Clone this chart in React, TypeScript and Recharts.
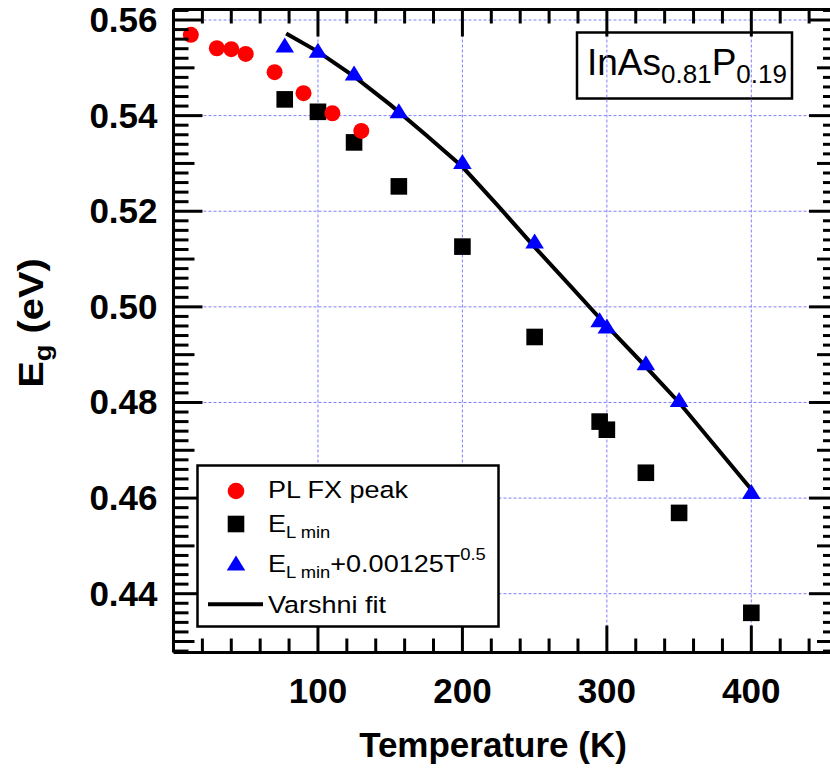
import React from "react";
import {
  ComposedChart,
  Scatter,
  Line,
  XAxis,
  YAxis,
  ReferenceLine,
  Legend,
  Customized,
} from "recharts";

// PL FX peak (red circles)
const plT = [12, 30, 40, 50, 70, 90, 110, 130];
const plE = [0.5569, 0.5541, 0.5539, 0.5529, 0.5491, 0.5447, 0.5405, 0.5368];

// E_L min (black squares)
const elT = [77, 100, 125, 156, 200, 250, 295, 300, 327, 350, 400];
const elE = [0.5434, 0.5408, 0.5344, 0.5252, 0.5126, 0.4937, 0.476, 0.4743, 0.4653, 0.4569, 0.436];

// E_L min + 0.00125 T^0.5 (blue triangles)
const corrT = [77, 100, 125, 156, 200, 250, 295, 300, 327, 350, 400];
const corrE = [0.5548, 0.5537, 0.5489, 0.541, 0.5304, 0.5138, 0.4973, 0.496, 0.4883, 0.4806, 0.4614];

// Varshni fit
const fitT = [78, 100, 125, 150, 175, 200, 225, 250, 275, 300, 325, 350, 375, 400];
const fitE = [0.5572, 0.5534, 0.5482, 0.5423, 0.5359, 0.5293, 0.521, 0.5125, 0.5043, 0.496, 0.4881, 0.48, 0.4709, 0.4618];

const xMajorTicks = [100, 200, 300, 400];
const yMajorTicks = [0.44, 0.46, 0.48, 0.5, 0.52, 0.54, 0.56];

const X_DOMAIN: [number, number] = [0, 460];
const Y_DOMAIN: [number, number] = [0.4277, 0.5622];

const xTicks: number[] = [];
for (let t = 20; t <= 440; t += 20) xTicks.push(t);
const yTicks: number[] = [];
for (let k = 428; k <= 562; k += 2) yTicks.push(k / 1000);

const toPts = (ts: number[], es: number[]) => ts.map((T, i) => ({ T, E: es[i] }));
const plData = toPts(plT, plE);
const elData = toPts(elT, elE);
const corrData = toPts(corrT, corrE);
const fitData = toPts(fitT, fitE);

const FONT = "'Liberation Sans', Arial, sans-serif";

const yLevel = (v: number) => {
  const k = Math.round(v * 1000);
  if (k % 20 === 0) return 29;
  if (k % 10 === 0) return 21;
  return 15;
};
const xLevel = (v: number) => (v % 100 === 0 ? 27 : 14);

const BottomTick = ({ x, y, payload }: any) => {
  const v = payload.value;
  return (
    <g>
      <line x1={x} x2={x} y1={y} y2={y - xLevel(v)} stroke="#000" strokeWidth={3} />
      {v % 100 === 0 && (
        <text x={x} y={y + 50} textAnchor="middle" fontFamily={FONT} fontWeight="bold" fontSize={35} fill="#000">
          {v}
        </text>
      )}
    </g>
  );
};

const TopTick = ({ x, y, payload }: any) => (
  <line x1={x} x2={x} y1={y} y2={y + xLevel(payload.value)} stroke="#000" strokeWidth={3} />
);

const LeftTick = ({ x, y, payload }: any) => {
  const v = payload.value;
  const k = Math.round(v * 1000);
  return (
    <g>
      <line x1={x} x2={x + yLevel(v)} y1={y} y2={y} stroke="#000" strokeWidth={3} />
      {k % 20 === 0 && (
        <text x={x - 16} y={y + 12} textAnchor="end" fontFamily={FONT} fontWeight="bold" fontSize={35} fill="#000">
          {v.toFixed(2)}
        </text>
      )}
    </g>
  );
};

const RightTick = ({ x, y, payload }: any) => (
  <line x1={x} x2={x - yLevel(payload.value)} y1={y} y2={y} stroke="#000" strokeWidth={3} />
);

const RedDot = (p: any) => <circle cx={p.cx} cy={p.cy} r={8} fill="#ff0000" />;
const BlackSquare = (p: any) => <rect x={p.cx - 8.3} y={p.cy - 8.3} width={16.6} height={16.6} fill="#000" />;
const BlueTriangle = (p: any) => (
  <path d={`M${p.cx},${p.cy - 7.5} L${p.cx + 9.3},${p.cy + 7.5} L${p.cx - 9.3},${p.cy + 7.5} Z`} fill="#0000ff" />
);

// legend text in the source is a bit wider than Arial, stretch it horizontally
const stretch = "translate(72,0) scale(1.15,1) translate(-72,0)";

const LegendBox = () => (
  <svg width={306} height={166} style={{ display: "block" }}>
    <rect x={1.5} y={1.5} width={301} height={161} fill="#fff" stroke="#000" strokeWidth={2.5} />
    <circle cx={40} cy={27} r={8.3} fill="#ff0000" />
    <rect x={31.7} y={51.7} width={16.6} height={16.6} fill="#000" />
    <path d="M40,91.5 L49.3,106.5 L30.7,106.5 Z" fill="#0000ff" />
    <line x1={12} x2={67} y1={140.3} y2={140.3} stroke="#000" strokeWidth={4} />
    <g fontFamily={FONT} fontSize={23.5} fill="#000" transform={stretch}>
      <text x={72} y={34.5}>PL FX peak</text>
      <text x={72} y={68}>
        E<tspan fontSize={16} dy={6}>L min</tspan>
      </text>
      <text x={72} y={108.5}>
        E<tspan fontSize={16} dy={6}>L min</tspan>
        <tspan dy={-6}>+0.00125T</tspan>
        <tspan fontSize={16} dy={-12}>0.5</tspan>
      </text>
      <text x={72} y={149}>Varshni fit</text>
    </g>
  </svg>
);

const AlloyLabel = () => (
  <g>
    <rect x={577} y={32.5} width={215} height={66} fill="#fff" stroke="#000" strokeWidth={2.5} />
    <text x={587} y={75} fontFamily={FONT} fontSize={37} fill="#000">
      InAs<tspan fontSize={26} dy={8}>0.81</tspan>
      <tspan dy={-8}>P</tspan>
      <tspan fontSize={26} dy={8}>0.19</tspan>
    </text>
  </g>
);

const YTitle = () => (
  <text
    transform="translate(43, 323) rotate(-90) scale(1.14,1)"
    textAnchor="middle"
    fontFamily={FONT}
    fontWeight="bold"
    fontSize={35}
    fill="#000"
  >
    E<tspan fontSize={24} dy={8}>g</tspan>
    <tspan dy={-8}> (eV)</tspan>
  </text>
);

const XTitle = () => (
  <text x={493} y={757} textAnchor="middle" fontFamily={FONT} fontWeight="bold" fontSize={35} fill="#000">
    Temperature (K)
  </text>
);

const gridStyle = { stroke: "#7f7fff", strokeWidth: 1, strokeDasharray: "3 2" };
const axisLine = { stroke: "#000", strokeWidth: 3 };

export default function App() {
  return (
    <div style={{ position: "absolute", left: 0, top: 0, width: 830, height: 778, overflow: "hidden", background: "#fff" }}>
      <ComposedChart width={840} height={778} margin={{ top: 0, right: 0, bottom: 0, left: 0 }}>
        <XAxis
          xAxisId="b"
          type="number"
          dataKey="T"
          domain={X_DOMAIN}
          allowDataOverflow
          ticks={xTicks}
          interval={0}
          orientation="bottom"
          height={125.5}
          tickSize={0}
          tickMargin={0}
          tickLine={false}
          axisLine={axisLine}
          tick={<BottomTick />}
        />
        <XAxis
          xAxisId="t"
          type="number"
          dataKey="T"
          domain={X_DOMAIN}
          allowDataOverflow
          ticks={xTicks}
          interval={0}
          orientation="top"
          height={9.5}
          tickSize={0}
          tickMargin={0}
          tickLine={false}
          axisLine={axisLine}
          tick={<TopTick />}
        />
        <YAxis
          yAxisId="l"
          type="number"
          dataKey="E"
          domain={Y_DOMAIN}
          allowDataOverflow
          ticks={yTicks}
          interval={0}
          orientation="left"
          width={173.5}
          tickSize={0}
          tickMargin={0}
          tickLine={false}
          axisLine={axisLine}
          tick={<LeftTick />}
        />
        <YAxis
          yAxisId="r"
          type="number"
          dataKey="E"
          domain={Y_DOMAIN}
          allowDataOverflow
          ticks={yTicks}
          interval={0}
          orientation="right"
          width={2}
          tickSize={0}
          tickMargin={0}
          tickLine={false}
          axisLine={axisLine}
          tick={<RightTick />}
        />
        {xMajorTicks.map((v) => (
          <ReferenceLine key={`gx${v}`} x={v} xAxisId="b" yAxisId="l" {...gridStyle} />
        ))}
        {yMajorTicks.map((v) => (
          <ReferenceLine key={`gy${v}`} y={v} xAxisId="b" yAxisId="l" {...gridStyle} />
        ))}
        <Line
          data={fitData}
          dataKey="E"
          xAxisId="b"
          yAxisId="l"
          type="linear"
          stroke="#000"
          strokeWidth={4}
          dot={false}
          activeDot={false}
          isAnimationActive={false}
          legendType="line"
          name="Varshni fit"
        />
        <Scatter data={elData} dataKey="E" xAxisId="b" yAxisId="l" shape={BlackSquare} isAnimationActive={false} name="E_L min" />
        <Scatter data={corrData} dataKey="E" xAxisId="b" yAxisId="l" shape={BlueTriangle} isAnimationActive={false} name="corr" />
        <Scatter data={plData} dataKey="E" xAxisId="b" yAxisId="l" shape={RedDot} isAnimationActive={false} name="PL FX peak" />
        <Customized component={AlloyLabel} />
        <Customized component={YTitle} />
        <Customized component={XTitle} />
        <Legend
          layout="vertical"
          align="center"
          verticalAlign="middle"
          content={() => <LegendBox />}
          wrapperStyle={{ left: 195.5, top: 463.5, width: 306, height: 166 }}
        />
      </ComposedChart>
    </div>
  );
}
